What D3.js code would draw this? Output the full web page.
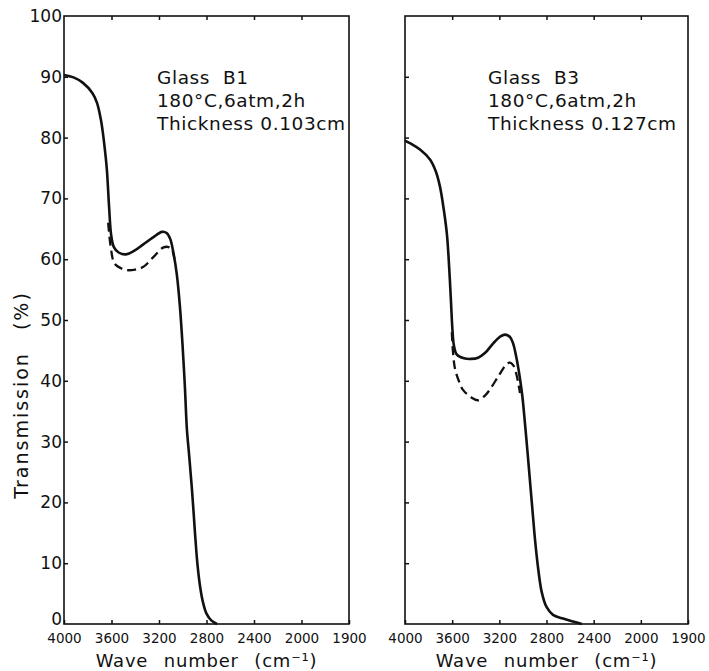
<!DOCTYPE html>
<html>
<head>
<meta charset="utf-8">
<script src="https://cdn.jsdelivr.net/npm/d3@7"></script>
<style>
  body { margin: 0; background: #fff; }
  text { font-family: "DejaVu Sans", sans-serif; fill: #111; }
</style>
</head>
<body>
<div id="chart"></div>
<script>
// x ticks (wave number) and the labels printed under them
var waveTicks = [4000, 3600, 3200, 2800, 2400, 2000, 1600];
var waveLabels = ["4000", "3600", "3200", "2800", "2400", "2000", "1900"];
var transTicks = [0, 10, 20, 30, 40, 50, 60, 70, 80, 90, 100];

// Glass B1 : [wave number, transmission %]
var b1Solid = [
  [4000, 90.3], [3920, 89.9], [3840, 89.0], [3760, 87.3], [3722, 85.7],
  [3690, 83.0], [3672, 80.7], [3650, 77.0], [3638, 74.5], [3620, 68.5],
  [3603, 64.0], [3580, 62.0], [3540, 61.1], [3480, 60.8], [3400, 61.5],
  [3335, 62.4], [3250, 63.6], [3175, 64.5], [3135, 64.3], [3105, 63.3],
  [3078, 61.0], [3050, 57.5], [3025, 52.5], [3002, 46.0], [2982, 39.0],
  [2965, 32.0], [2945, 27.5], [2920, 21.5], [2897, 15.0], [2877, 10.0],
  [2855, 6.3], [2830, 3.6], [2800, 1.7], [2760, 0.6], [2712, 0]
];
var b1Dashed = [
  [3628, 66.0], [3605, 61.8], [3575, 59.3], [3520, 58.5], [3470, 58.2],
  [3400, 58.3], [3335, 58.7], [3250, 60.3], [3166, 61.9], [3120, 62.0],
  [3090, 61.5], [3070, 60.0]
];

// Glass B3
var b3Solid = [
  [4000, 79.5], [3950, 79.0], [3870, 78.0], [3788, 76.4], [3740, 74.5],
  [3703, 71.9], [3670, 68.0], [3644, 64.0], [3625, 58.5], [3610, 53.0],
  [3598, 48.5], [3585, 45.8], [3560, 44.3], [3500, 43.7], [3440, 43.6],
  [3380, 43.8], [3320, 44.6], [3250, 46.2], [3190, 47.3], [3152, 47.6],
  [3110, 47.2], [3084, 46.2], [3055, 43.8], [3030, 41.0], [3005, 37.5],
  [2985, 33.5], [2962, 28.5], [2940, 23.5], [2918, 18.5], [2898, 14.0],
  [2870, 9.0], [2840, 5.2], [2800, 2.8], [2745, 1.5], [2660, 0.9],
  [2575, 0.4], [2500, 0]
];
var b3Dashed = [
  [3603, 48.0], [3592, 44.5], [3576, 42.0], [3540, 39.8], [3508, 38.5],
  [3440, 37.3], [3381, 36.8], [3320, 37.6], [3279, 38.6], [3200, 41.0],
  [3140, 42.7], [3110, 43.0], [3080, 42.5], [3052, 40.8], [3025, 38.0]
];

var b1Notes = ["Glass  B1", "180\u00b0C,6atm,2h", "Thickness 0.103cm"];
var b3Notes = ["Glass  B3", "180\u00b0C,6atm,2h", "Thickness 0.127cm"];

var width = 709, height = 671;
var yTop = 16, yBottom = 624;

var svg = d3.select("#chart")
  .append("svg")
    .attr("width", width)
    .attr("height", height);

var y = d3.scaleLinear().domain([0, 100]).range([yBottom, yTop]);

function panel(left, right, solid, dashed, notes, noteX, showY) {
  var x = d3.scaleLinear().domain([4000, 1600]).range([left, right]);
  var g = svg.append("g");

  // bottom axis, ticks pointing inward
  var xb = g.append("g")
    .attr("transform", "translate(0," + yBottom + ")")
    .call(d3.axisBottom(x).tickValues(waveTicks).tickSize(-4).tickPadding(9)
      .tickFormat(function(d, i) { return waveLabels[i]; }));
  xb.selectAll("text").style("font-size", "13.5px");

  // top ticks
  g.append("g")
    .attr("transform", "translate(0," + yTop + ")")
    .call(d3.axisTop(x).tickValues(waveTicks.slice(1, -1)).tickSize(-4).tickFormat(""));

  // left axis
  var yl = g.append("g")
    .attr("transform", "translate(" + left + ",0)")
    .call(d3.axisLeft(y).tickValues(transTicks.slice(1, -1)).tickSize(-4).tickPadding(2)
      .tickFormat(showY ? d3.format("d") : ""));
  yl.selectAll("text").style("font-size", "17px");
  if (showY) {
    var ends = g.append("g")
      .attr("transform", "translate(" + left + ",0)")
      .call(d3.axisLeft(y).tickValues([0, 100]).tickSize(0).tickPadding(2));
    ends.selectAll("text").style("font-size", "17px")
      .attr("y", function(d) { return d === 0 ? -5 : 0; });
  }
  g.selectAll(".domain").remove();
  g.selectAll(".tick line").attr("stroke", "#111").attr("stroke-width", 1.5);
  g.selectAll(".tick text").attr("font-family", null).attr("fill", "#111");

  g.append("rect")
    .attr("x", left).attr("y", yTop)
    .attr("width", right - left).attr("height", yBottom - yTop)
    .attr("fill", "none").attr("stroke", "#111").attr("stroke-width", 1.6);

  var line = d3.line()
    .x(function(d) { return x(d[0]); })
    .y(function(d) { return y(d[1]); })
    .curve(d3.curveCatmullRom.alpha(0.5));

  g.append("path").datum(solid)
    .attr("d", line).attr("fill", "none")
    .attr("stroke", "#111").attr("stroke-width", 2.6);
  g.append("path").datum(dashed)
    .attr("d", line).attr("fill", "none")
    .attr("stroke", "#111").attr("stroke-width", 2.3)
    .attr("stroke-dasharray", "9,5");

  g.selectAll(".note").data(notes).enter().append("text")
    .attr("class", "note")
    .attr("x", left + noteX)
    .attr("y", function(d, i) { return 84 + i * 23; })
    .style("font-size", "18.5px")
    .style("letter-spacing", "0.6px")
    .style("white-space", "pre")
    .attr("xml:space", "preserve")
    .text(function(d) { return d; });

  svg.append("text")
    .attr("x", (left + right) / 2)
    .attr("y", 667)
    .attr("text-anchor", "middle")
    .style("font-size", "18px")
    .style("letter-spacing", "0.8px")
    .style("word-spacing", "9px")
    .text("Wave number (cm\u207b\u00b9)");
}

panel(64, 349, b1Solid, b1Dashed, b1Notes, 93, true);
panel(405, 688, b3Solid, b3Dashed, b3Notes, 83, false);

svg.append("text")
  .attr("transform", "translate(28,395) rotate(-90)")
  .attr("text-anchor", "middle")
  .style("font-size", "19px")
  .style("letter-spacing", "2px")
  .style("word-spacing", "14px")
  .text("Transmission (%)");
</script>
</body>
</html>
